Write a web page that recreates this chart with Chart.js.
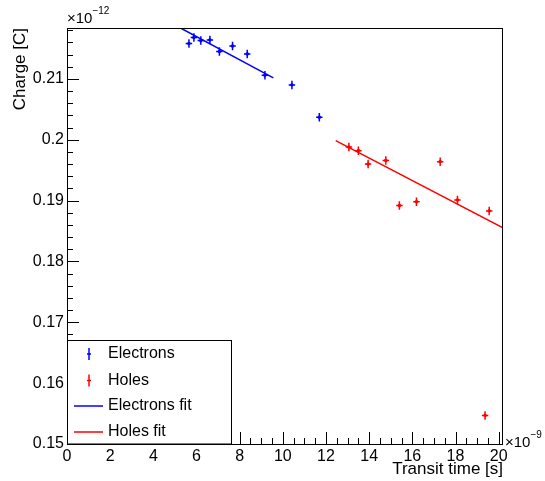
<!DOCTYPE html>
<html lang="en">
<head>
    <meta charset="UTF-8">
    <title>Charge vs transit time</title>
    <script src="https://cdn.jsdelivr.net/npm/chart.js"></script>
    <style>
        body { margin: 0; background: #fff; }
    </style>
</head>
<body>
    <canvas id="myChart" width="545" height="481"></canvas>
    <script>
        // x in units of 1e-9 s, y in units of 1e-12 C
        const elecTime = [5.65, 5.88, 6.20, 6.62, 7.06, 7.67, 8.35, 9.17, 10.42, 11.69];
        const elecCharge = [0.2158, 0.2168, 0.2163, 0.2164, 0.2145, 0.2154, 0.2141, 0.2106, 0.2090, 0.2037];
        const holeTime = [13.06, 13.50, 13.95, 14.77, 15.40, 16.19, 17.29, 18.09, 19.37, 19.56];
        const holeCharge = [0.1988, 0.1982, 0.1960, 0.1966, 0.1892, 0.1898, 0.1964, 0.1901, 0.1547, 0.1883];
        const timeErr = 0.15;
        const chargeErr = 0.0007;

        const elecFitTime = [5.26, 9.56];
        const elecFitCharge = [0.21836, 0.21016];
        const holeFitTime = [12.45, 20.2];
        const holeFitCharge = [0.19984, 0.18552];

        const xTicks = [0, 2, 4, 6, 8, 10, 12, 14, 16, 18, 20];
        const yTicks = [0.15, 0.16, 0.17, 0.18, 0.19, 0.2, 0.21];

        const xMin = 0, xMax = 20.2, yMin = 0.15, yMax = 0.21836;
        const FONT = 'Liberation Sans, Arial, sans-serif';

        function pts(xs, ys) {
            return xs.map((x, i) => ({ x: x, y: ys[i] }));
        }

        // error bars + frame + inward ticks + exponents + legend, ROOT style
        const rootStyle = {
            id: 'rootStyle',
            afterDatasetsDraw(chart) {
                const ctx = chart.ctx;
                const a = chart.chartArea;
                const xs = chart.scales.x, ys = chart.scales.y;
                ctx.save();
                ctx.beginPath();
                ctx.rect(a.left, a.top, a.right - a.left, a.bottom - a.top);
                ctx.clip();
                chart.data.datasets.forEach(ds => {
                    if (!ds.errX) return;
                    ctx.strokeStyle = ds.borderColor;
                    ctx.lineWidth = 1.5;
                    ds.data.forEach(p => {
                        const px = xs.getPixelForValue(p.x), py = ys.getPixelForValue(p.y);
                        const x0 = xs.getPixelForValue(p.x - ds.errX), x1 = xs.getPixelForValue(p.x + ds.errX);
                        const y0 = ys.getPixelForValue(p.y - ds.errY), y1 = ys.getPixelForValue(p.y + ds.errY);
                        ctx.beginPath();
                        ctx.moveTo(x0, py); ctx.lineTo(x1, py);
                        ctx.moveTo(px, y0); ctx.lineTo(px, y1);
                        ctx.stroke();
                    });
                });
                ctx.restore();
            },
            afterDraw(chart) {
                const ctx = chart.ctx;
                const a = chart.chartArea;
                const xs = chart.scales.x, ys = chart.scales.y;
                ctx.save();
                ctx.strokeStyle = '#000';
                ctx.lineWidth = 1;
                ctx.strokeRect(Math.round(a.left) + 0.5, Math.round(a.top) + 0.5,
                    Math.round(a.right - a.left) - 1, Math.round(a.bottom - a.top));

                // y ticks
                ctx.beginPath();
                for (let v = yMin; v <= yMax + 1e-9; v += 0.002) {
                    const y = Math.round(ys.getPixelForValue(v)) + 0.5;
                    const major = Math.abs(v * 100 - Math.round(v * 100)) < 1e-6;
                    ctx.moveTo(a.left, y);
                    ctx.lineTo(a.left + (major ? 12 : 6), y);
                }
                // x ticks
                for (let v = xMin; v <= xMax + 1e-9; v += 0.5) {
                    const x = Math.round(xs.getPixelForValue(v)) + 0.5;
                    const major = Math.abs(v / 2 - Math.round(v / 2)) < 1e-6;
                    ctx.moveTo(x, a.bottom);
                    ctx.lineTo(x, a.bottom - (major ? 12 : 6));
                }
                ctx.stroke();

                // exponents
                ctx.fillStyle = '#000';
                ctx.textBaseline = 'alphabetic';
                ctx.textAlign = 'left';
                ctx.font = '15px ' + FONT;
                ctx.fillText('\u00d710', a.left, a.top - 5);
                let w = ctx.measureText('\u00d710').width;
                ctx.font = '10px ' + FONT;
                ctx.fillText('\u221212', a.left + w, a.top - 14);
                ctx.font = '15px ' + FONT;
                ctx.fillText('\u00d710', a.right + 2, a.bottom + 3);
                w = ctx.measureText('\u00d710').width;
                ctx.font = '10px ' + FONT;
                ctx.fillText('\u22129', a.right + 2 + w, a.bottom - 6);

                // legend
                const lx = 67.5, ly = 340.5, lw = 164, lh = a.bottom - 340.5;
                ctx.fillStyle = '#fff';
                ctx.fillRect(lx, ly, lw, lh);
                ctx.strokeStyle = '#000';
                ctx.strokeRect(lx, ly, lw, lh);
                const rows = [354, 380.5, 406, 432];
                chart.data.datasets.forEach((ds, i) => {
                    const y = rows[i];
                    ctx.strokeStyle = ds.borderColor;
                    ctx.lineWidth = 1.5;
                    ctx.beginPath();
                    if (ds.errX) {
                        ctx.moveTo(89, y - 6); ctx.lineTo(89, y + 6);
                        ctx.moveTo(87, y); ctx.lineTo(91, y);
                    } else {
                        ctx.moveTo(74, y); ctx.lineTo(103, y);
                    }
                    ctx.stroke();
                    ctx.fillStyle = '#000';
                    ctx.font = '16px ' + FONT;
                    ctx.textBaseline = 'middle';
                    ctx.fillText(ds.label, 108, y);
                });
                ctx.restore();
            }
        };

        const ctx = document.getElementById('myChart');
        const myChart = new Chart(ctx, {
            type: 'scatter',
            data: {
                datasets: [{
                    label: 'Electrons',
                    data: pts(elecTime, elecCharge),
                    borderColor: '#0000ff',
                    backgroundColor: '#0000ff',
                    pointStyle: 'rect',
                    pointRadius: 1.5,
                    errX: timeErr,
                    errY: chargeErr
                }, {
                    label: 'Holes',
                    data: pts(holeTime, holeCharge),
                    borderColor: '#ff0000',
                    backgroundColor: '#ff0000',
                    pointStyle: 'rect',
                    pointRadius: 1.5,
                    errX: timeErr,
                    errY: chargeErr
                }, {
                    label: 'Electrons fit',
                    data: pts(elecFitTime, elecFitCharge),
                    borderColor: '#0000ff',
                    borderWidth: 1.5,
                    showLine: true,
                    pointRadius: 0
                }, {
                    label: 'Holes fit',
                    data: pts(holeFitTime, holeFitCharge),
                    borderColor: '#ff0000',
                    borderWidth: 1.5,
                    showLine: true,
                    pointRadius: 0
                }]
            },
            options: {
                responsive: false,
                animation: false,
                devicePixelRatio: 1,
                layout: { padding: { left: 0, top: 28, right: 42, bottom: 0 } },
                plugins: {
                    legend: { display: false },
                    tooltip: { enabled: false }
                },
                scales: {
                    x: {
                        type: 'linear',
                        min: xMin,
                        max: xMax,
                        grid: { display: false, drawTicks: false },
                        border: { display: false },
                        afterBuildTicks: s => { s.ticks = xTicks.map(v => ({ value: v })); },
                        afterFit: s => { s.height = 37; },
                        ticks: {
                            color: '#000',
                            font: { family: FONT, size: 16 },
                            padding: 3,
                            maxRotation: 0,
                            autoSkip: false,
                            callback: v => String(v)
                        },
                        title: {
                            display: true,
                            text: 'Transit time [s]',
                            align: 'end',
                            color: '#000',
                            font: { family: FONT, size: 17 },
                            padding: { top: 0, bottom: 1 }
                        }
                    },
                    y: {
                        type: 'linear',
                        min: yMin,
                        max: yMax,
                        grid: { display: false, drawTicks: false },
                        border: { display: false },
                        afterBuildTicks: s => { s.ticks = yTicks.map(v => ({ value: v })); },
                        afterFit: s => { s.width = 67; },
                        ticks: {
                            color: '#000',
                            font: { family: FONT, size: 16 },
                            padding: 3,
                            autoSkip: false,
                            callback: v => String(+v.toFixed(3))
                        },
                        title: {
                            display: true,
                            text: 'Charge [C]',
                            align: 'end',
                            color: '#000',
                            font: { family: FONT, size: 17 },
                            padding: { top: 10, bottom: 0 }
                        }
                    }
                }
            },
            plugins: [rootStyle]
        });
    </script>
</body>
</html>
